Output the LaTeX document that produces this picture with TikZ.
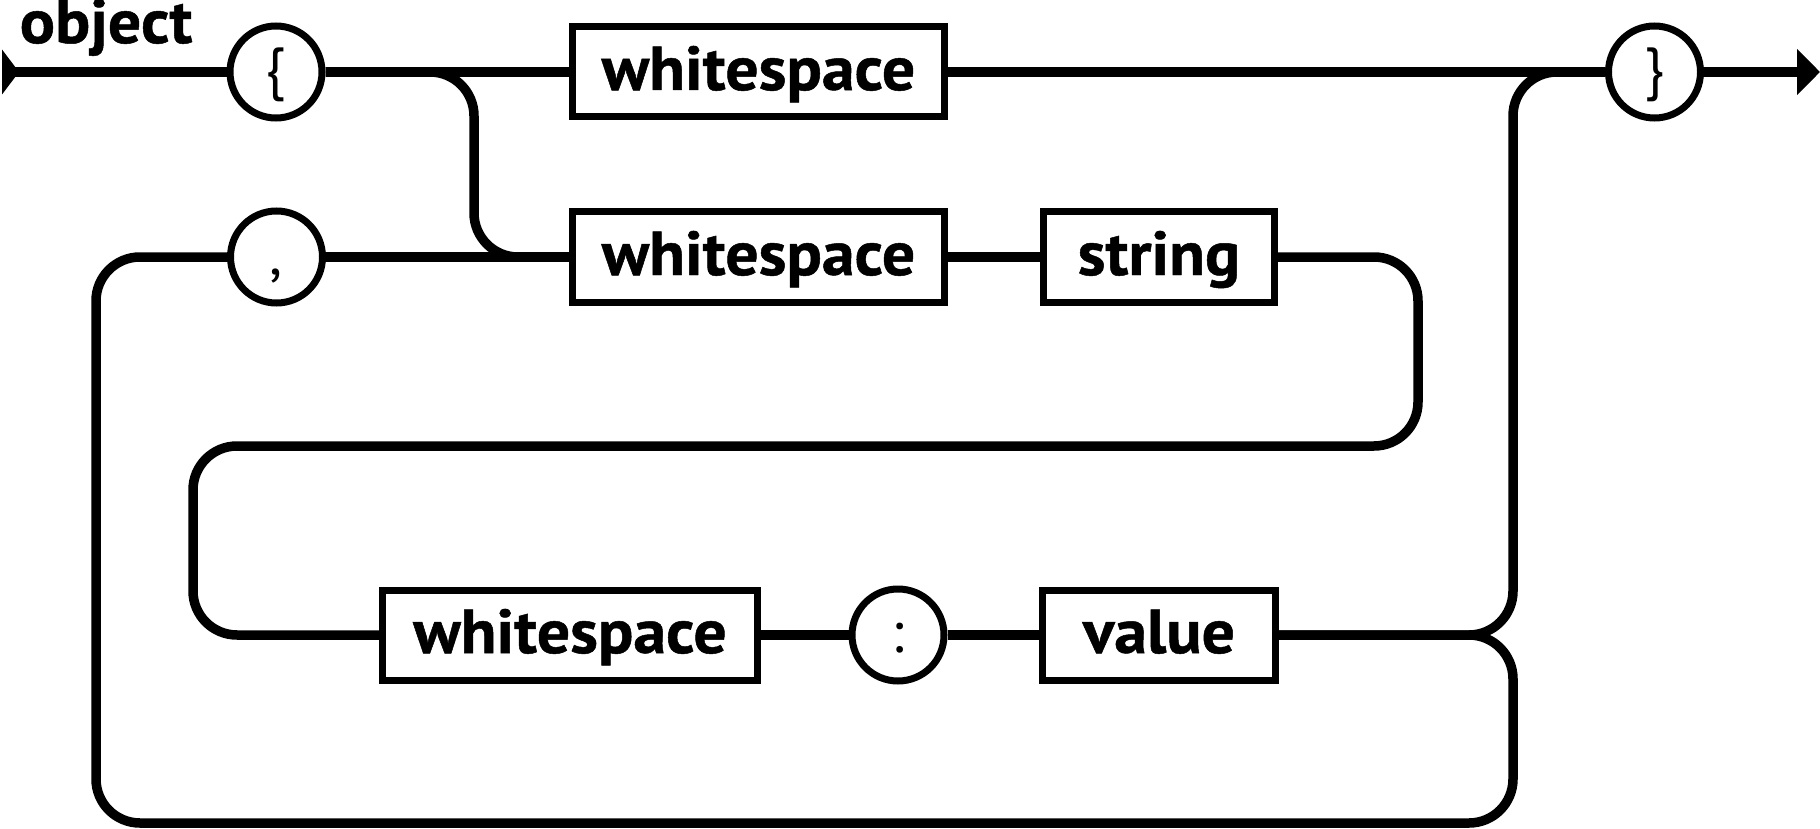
\documentclass[tikz,border=0pt]{standalone}
\usepackage{fontspec}
\setmainfont{PT Sans}
\newfontfamily\diagfont{PT Sans}[FakeStretch=1.06, BoldFeatures={FakeBold=0.8}]
\usetikzlibrary{arrows.meta}
\begin{document}
\begin{tikzpicture}[x=1pt,y=-1pt,
  line width=9.5pt,
  boxnode/.style={draw, line width=7pt, rectangle, minimum height=90pt, inner sep=0pt,
    font=\diagfont\fontsize{62}{64}\selectfont\bfseries, text height=49pt, text depth=13pt},
  termnode/.style={draw, line width=7pt, circle, minimum size=92pt, inner sep=0pt,
    font=\fontsize{58}{60}\selectfont, text height=46pt, text depth=12pt},
  rr/.style={rounded corners=44pt}
]
\useasboundingbox (0,0) rectangle (1820,829);
\node[termnode] (lb) at (276,72) {\{};
\node[boxnode, minimum width=372pt] (ws1) at (758.5,72) {whitespace};
\node[termnode] (rb) at (1654.5,72) {\}};
\node[termnode] (comma) at (276.5,257) {,};
\node[boxnode, minimum width=372pt] (ws2) at (758.5,257) {whitespace};
\node[boxnode, minimum width=231pt] (str) at (1159,257) {string};
\node[boxnode, minimum width=375pt] (ws3) at (570,635) {whitespace};
\node[termnode] (colon) at (898,635) {:};
\node[boxnode, minimum width=233pt] (val) at (1159,635) {value};
\node[anchor=base west, font=\diagfont\fontsize{62}{64}\selectfont\bfseries, inner sep=0pt] (title) at (15,43) {object};
\coordinate (start) at (2,72);
\coordinate (end) at (1820,72);

\fill (start) -- ++(0,-22.5) -- ++(17,22.5) -- ++(-17,22.5) -- cycle;
\draw (start) -- (lb.west);
\draw (lb) -- (ws1);
\draw[rr] (lb.east) -| (474,257) -- (ws2.west);
\draw (ws1) -- (rb);
\draw[-{Triangle[length=23pt,width=45pt]}] (rb) -- (end);
\draw (comma) -- (ws2);
\draw (ws2) -- (str);
\draw[rr] (str.east) -| (1418,446) -| (193,635) -- (ws3.west);
\draw (ws3) -- (colon);
\draw (colon) -- (val);
\draw[rr] (val.east) -| (1513,72) -- (rb.west);
\draw[rr] (val.east) -| (1513,823) -| (96,257) -- (comma.west);
\end{tikzpicture}
\end{document}
